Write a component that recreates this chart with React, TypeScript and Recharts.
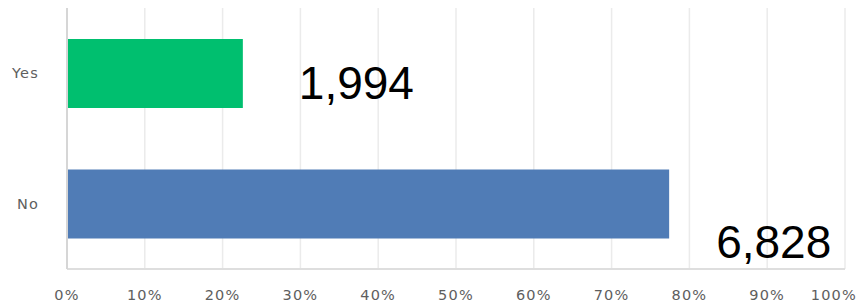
import React from "react";
import { BarChart, Bar, XAxis, YAxis, CartesianGrid, LabelList, Cell } from "recharts";

const categories = ["Yes", "No"];
const counts = [1994, 6828];
const barColors = ["#00BF6F", "#507CB6"];
const xTicks = [0, 10, 20, 30, 40, 50, 60, 70, 80, 90, 100];

const total = counts.reduce((a, b) => a + b, 0);
const data = categories.map((c, i) => ({
  name: c,
  count: counts[i],
  pct: (counts[i] / total) * 100,
}));

const labelOffsets = [
  { dx: 56, dy: 60 },
  { dx: 47, dy: 88 },
];

const CountLabel = (props: any) => {
  const { x, y, width, index, value } = props;
  const o = labelOffsets[index] || { dx: 50, dy: 60 };
  return (
    <text
      x={Number(x) + Number(width) + o.dx}
      y={Number(y) + o.dy}
      fontFamily="'Liberation Sans', Arial, sans-serif"
      fontSize={46}
      fill="#000"
      textAnchor="start"
    >
      {Number(value).toLocaleString("en-US")}
    </text>
  );
};

const fontStyle = {
  fontFamily: "'DejaVu Sans', sans-serif",
  fontSize: 14.5,
  fill: "#5e5e5e",
  letterSpacing: 1.2,
};

const XTick = (props: any) => {
  const { x, y, payload, index } = props;
  const last = index === xTicks.length - 1;
  return (
    <text
      x={last ? Number(x) + 12 : Number(x)}
      y={Number(y)}
      dy="0.71em"
      textAnchor={last ? "end" : "middle"}
      {...fontStyle}
    >
      {`${payload.value}%`}
    </text>
  );
};

export default function App() {
  return (
    <div style={{ position: "absolute", left: 0, top: 0, width: 860, height: 303, background: "#fff" }}>
      <BarChart
        width={860}
        height={303}
        data={data}
        layout="vertical"
        margin={{ top: 8, right: 15, left: 0, bottom: 0 }}
        barCategoryGap={0}
      >
        <CartesianGrid horizontal={false} stroke="#ebebeb" strokeWidth={1.5} />
        <XAxis
          type="number"
          domain={[0, 100]}
          ticks={xTicks}
          height={34}
          tickLine={false}
          tickMargin={15}
          axisLine={{ stroke: "#dedede", strokeWidth: 2 }}
          tick={<XTick />}
          interval={0}
        />
        <YAxis
          type="category"
          dataKey="name"
          width={67}
          tickLine={false}
          tickMargin={22}
          axisLine={{ stroke: "#d6d6d6", strokeWidth: 2 }}
          tick={fontStyle}
        />
        <Bar dataKey="pct" barSize={69} isAnimationActive={false}>
          {data.map((d, i) => (
            <Cell key={d.name} fill={barColors[i]} />
          ))}
          <LabelList dataKey="count" content={CountLabel} />
        </Bar>
      </BarChart>
    </div>
  );
}
